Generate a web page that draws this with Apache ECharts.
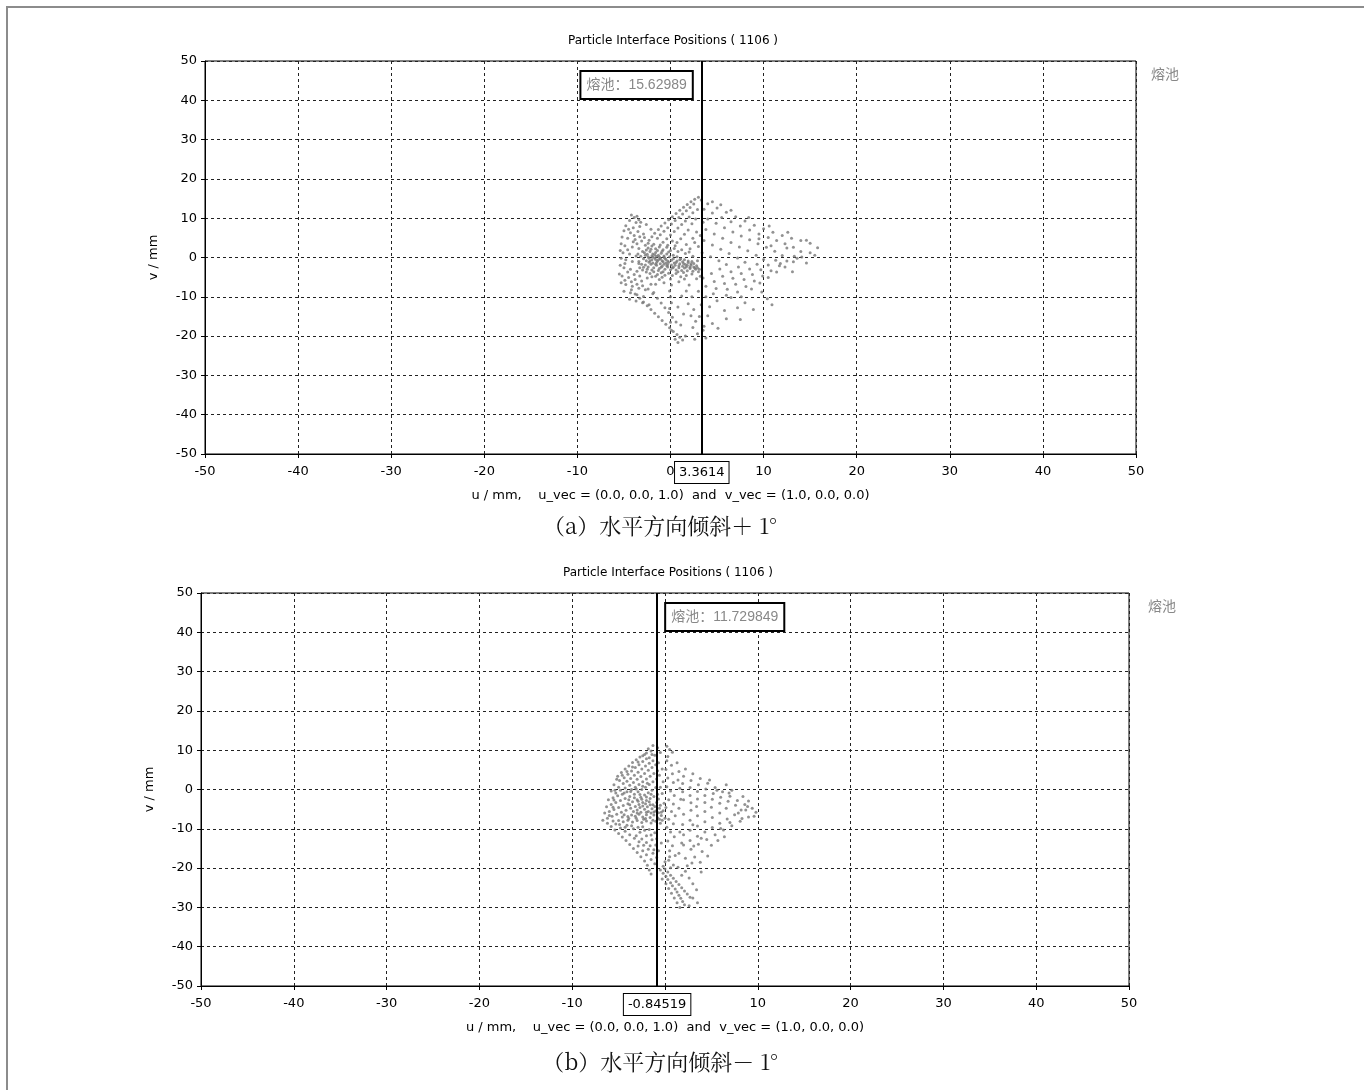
<!DOCTYPE html>
<html>
<head>
<meta charset="utf-8">
<script src="https://cdn.jsdelivr.net/npm/echarts@6/dist/echarts.min.js"></script>
<style>
  html, body { margin: 0; padding: 0; background: #fff; }
  #main { width: 1364px; height: 1090px; }
</style>
</head>
<body>
<div id="main"></div>
<script>
// tick labels / axis range
var axisMin = -50, axisMax = 50, axisStep = 10;
var chartTitle = 'Particle Interface Positions ( 1106 )';
var xName = 'u / mm,    u_vec = (0.0, 0.0, 1.0)  and  v_vec = (1.0, 0.0, 0.0)';
var yName = 'v / mm';
var seriesName = '熔池';
var captionA = '（a）水平方向倾斜＋ 1°';
var captionB = '（b）水平方向倾斜－ 1°';
var markA = 3.3614;     // vertical marker line, chart (a)
var markB = -0.84519;   // vertical marker line, chart (b)
var peakA = '15.62989';
var peakB = '11.729849';

// chart (a) particle positions [u, v]
var ptsA_core = [[-2.8,1.2],[-2.5,0.8],[-2.2,1.5],[-1.9,0.9],[-1.6,1.3],[-1.3,0.6],[-1.0,1.1],[-0.7,0.4],[-0.4,0.9],[-0.1,0.2],
  [-2.9,-0.3],[-2.6,-0.8],[-2.3,-0.2],[-2.0,-0.6],[-1.7,-0.1],[-1.4,-0.9],[-1.1,-0.4],[-0.8,-1.1],[-0.5,-0.5],[-0.2,-1.2],
  [0.1,-0.7],[0.4,-1.4],[0.7,-0.9],[1.0,-1.6],[1.3,-1.1],[1.6,-1.8],[1.9,-1.3],[2.2,-2.0],[2.5,-1.5],[2.8,-2.1],
  [-2.7,-1.9],[-2.4,-2.4],[-2.1,-1.7],[-1.8,-2.6],[-1.5,-2.0],[-1.2,-2.8],[-0.9,-2.2],[-0.6,-3.0],[-0.3,-2.4],[0.0,-3.1],
  [0.3,-2.5],[0.6,-3.2],[0.9,-2.6],[1.2,-3.3],[1.5,-2.7],[1.8,-3.4],[2.1,-2.8],[2.4,-3.5],[2.7,-3.0],[3.0,-3.6],
  [-2.4,2.4],[-2.0,2.9],[-1.6,2.2],[-1.2,2.7],[-0.8,2.0],[-0.4,2.6],[0.0,1.8],[0.4,2.3],[0.8,1.5],[1.2,2.0],
  [-3.0,-3.2],[-2.6,-3.7],[-2.2,-4.1],[-1.8,-3.6],[-1.4,-4.3],[-1.0,-3.9],[-0.6,-4.5],[-0.2,-4.0],[0.2,-4.6],[0.6,-4.1],
  [-1.9,0.1],[-1.5,0.3],[-1.1,-0.2],[-0.7,0.1],[-2.3,-1.2],[-1.9,-1.4],[-1.5,-1.3],[-1.1,-1.6],[-0.7,-1.7],[-0.3,-1.8],
  [0.1,-1.9],[0.5,-2.0],[0.9,-2.1],[1.3,-2.2],[1.7,-2.4],[2.1,-2.5],[2.5,-2.4],[-1.3,-0.6],[-0.9,-0.8],[-0.5,-1.4],
  [-2.0,0.4],[-2.4,0.2],[-2.7,0.6],[-1.7,0.7],[0.3,0.6],[0.7,0.2],[1.1,-0.3],[1.5,-0.6],[1.9,-0.9],[2.3,-1.0]];
var ptsA_left = [[-4.2,10.8],[-3.9,10.2],[-3.6,10.5],[-4.4,9.4],[-3.7,8.9],[-4.8,8.1],[-4.0,7.6],[-3.3,7.9],[-5.0,6.8],[-4.3,6.3],
  [-3.5,6.6],[-2.9,6.0],[-5.2,5.2],[-4.6,4.9],[-3.8,4.6],[-3.1,4.2],[-5.3,3.5],[-4.9,3.0],[-4.1,2.7],[-3.4,2.3],
  [-5.4,1.8],[-5.1,1.2],[-4.4,0.9],[-3.7,0.4],[-5.3,-0.2],[-4.8,-0.6],[-4.1,-1.0],[-3.4,-1.5],[-5.4,-2.0],[-5.0,-2.6],
  [-4.3,-3.0],[-3.6,-3.5],[-5.5,-4.2],[-5.2,-4.7],[-4.5,-5.1],[-3.8,-5.6],[-3.1,-6.0],[-5.3,-6.4],[-4.8,-6.9],[-4.1,-7.3],
  [-3.4,-7.8],[-2.7,-8.2],[-5.0,-8.6],[-4.3,-9.0],[-3.6,-9.5],[-2.9,-9.9],[-4.4,-10.6],[-3.7,-11.1],[-3.0,-11.5],[-2.3,-12.0],
  [-3.2,9.0],[-2.6,8.4],[-2.1,7.2],[-2.8,5.1],[-2.4,3.6],[-3.0,1.5],[-2.9,-2.5],[-2.5,-5.2],[-2.1,-6.8],[-1.8,-8.9]];
var ptsA_ridge = [[3.0,15.3],[2.6,14.8],[2.2,14.2],[3.3,14.6],[1.8,13.5],[2.5,13.6],[1.4,12.8],[2.1,12.7],[1.0,12.0],[1.7,11.9],
  [0.6,11.2],[1.3,11.1],[2.4,11.4],[0.2,10.4],[0.9,10.2],[2.0,10.3],[-0.2,9.6],[0.5,9.4],[1.6,9.3],[-0.6,8.8],
  [0.1,8.5],[1.2,8.4],[-1.0,8.0],[-0.3,7.6],[0.8,7.5],[2.3,8.6],[-1.3,7.1],[-0.7,6.7],[0.4,6.6],[1.9,7.0],
  [-1.7,6.2],[-1.1,5.8],[0.0,5.7],[1.5,5.9],[-2.0,5.3],[-1.4,4.9],[-0.4,4.8],[1.1,4.8],[-2.3,4.4],[-0.8,3.9],
  [0.7,3.8],[2.7,9.8],[2.9,12.2],[2.8,6.5],[2.4,4.9]];
var ptsA_arcs = [[15.8,2.5],[15.0,3.6],[14.0,4.3],[13.0,4.9],[12.0,5.6],[11.0,6.4],[10.0,7.3],[9.0,8.2],[8.0,9.3],[7.0,10.4],[6.0,11.5],[5.0,12.6],[4.0,13.7],
  [15.0,1.2],[14.1,0.1],[13.2,-1.1],[12.3,-2.4],[11.4,-3.7],[10.5,-5.1],[9.6,-6.5],[8.7,-8.0],
  [14.0,1.5],[13.2,2.6],[12.3,3.5],[11.4,4.3],[10.5,5.1],[9.5,6.0],[8.5,7.0],[7.5,8.0],[6.5,9.1],[5.5,10.2],[4.5,11.3],[3.6,12.3],
  [13.3,0.3],[12.5,-0.9],[11.7,-2.1],[10.8,-3.4],[9.9,-4.7],[9.0,-6.0],[8.1,-7.4],[7.2,-8.8],
  [12.0,0.5],[11.2,1.6],[10.3,2.6],[9.4,3.5],[8.5,4.5],[7.6,5.5],[6.7,6.5],[5.8,7.6],[4.9,8.7],[4.0,9.8],
  [11.3,-0.7],[10.5,-1.9],[9.7,-3.1],[8.8,-4.3],[7.9,-5.6],[7.0,-6.8],[6.1,-8.1],
  [10.0,-0.5],[9.2,0.6],[8.3,1.7],[7.4,2.7],[6.5,3.8],[5.6,4.9],[4.7,6.0],[3.8,7.1],
  [9.3,-1.7],[8.5,-2.9],[7.6,-4.1],[6.7,-5.3],[5.8,-6.6],[4.9,-7.9],
  [8.0,-1.2],[7.2,-0.1],[6.3,1.0],[5.4,2.1],[4.5,3.2],[3.6,4.3],[7.3,-2.4],[6.5,-3.6],[5.6,-4.8],[4.7,-6.1],[3.8,-7.3],
  [6.0,-1.8],[5.2,-0.8],[4.3,0.2],[3.4,1.2],[5.3,-2.9],[4.4,-4.1],[3.5,-5.2],
  [9.5,4.8],[10.8,3.0],[12.5,2.4],[11.8,-1.5],[13.6,-0.2],[9.8,-8.8],[10.4,-10.5],[10.9,-12.0],[8.0,-11.5],[6.5,-10.2],
  [5.0,-11.0],[4.2,-12.5],[5.8,-13.5],[4.0,-14.8],[6.0,-15.6],[7.5,-15.8],[4.5,-16.8],[3.6,-17.5],[5.1,-18.0],[7.2,-12.8],
  [8.9,-13.2],[3.8,-10.0],[4.6,-9.2],[6.0,-9.6],[7.6,-10.0]];
var ptsA_tail = [[-4.2,-8.2],[-3.8,-9.3],[-3.3,-10.4],[-2.9,-11.3],[-2.5,-12.3],[-2.1,-13.2],[-1.7,-14.2],[-1.3,-15.1],[-0.9,-16.0],[-0.5,-17.0],
  [-0.1,-17.9],[0.3,-18.8],[0.7,-19.6],[1.0,-20.3],[0.5,-20.8],[1.3,-21.0],[0.8,-21.6],[1.6,-20.0],
  [-3.0,-7.2],[-2.4,-8.0],[-1.9,-9.2],[-1.4,-10.4],[-1.0,-11.6],[-0.6,-12.8],[-0.2,-14.0],[0.2,-15.2],[0.6,-16.4],
  [0.0,-5.5],[0.1,-7.0],[-0.1,-8.5],[0.0,-10.0],[0.1,-11.5],[-0.1,-13.0],[0.0,-16.5],[0.1,-18.5],
  [1.5,-5.5],[2.0,-7.0],[1.7,-8.5],[2.3,-10.0],[1.9,-11.8],[2.5,-13.2],[2.2,-14.8],[2.7,-16.2],[2.4,-17.8],[2.9,-19.4],[2.6,-20.8],
  [-1.2,-5.6],[-1.6,-6.8],[-0.7,-6.4],[0.9,-6.2],[1.2,-9.8],[0.8,-12.6],[1.4,-14.4],[1.1,-17.2],[-2.0,-4.9],[3.2,-4.8],
  [3.0,-8.6],[3.3,-12.0],[3.1,-15.0],[3.5,-18.5],[3.8,-20.5]];
var ptsA_extra = [[-2.6,1.9],[-2.1,2.1],[-1.4,1.8],[-0.9,1.6],[-0.2,1.4],[-3.2,0.3],[-3.4,-1.0],[-3.1,-1.7],[-3.3,-2.6],[-3.5,0.9],
  [-2.2,-0.9],[-1.6,-0.5],[-1.2,0.2],[-0.6,-0.2],[-0.3,-0.9],[0.3,-0.3],[0.6,-1.3],[1.0,-0.6],[1.4,-1.5],[1.8,-2.0],
  [2.2,-1.6],[2.6,-2.7],[2.9,-2.6],[3.1,-3.0],[-1.6,-1.7],[-1.0,-2.5],[-0.4,-2.1],[0.2,-2.7],[0.8,-3.6],[1.4,-3.8],
  [-2.0,-3.2],[-1.3,-3.3],[-0.8,-3.6],[-2.5,-3.0],[-1.6,-4.8],[-0.9,-5.0],[-3.6,3.5],[-4.0,4.0],[-3.3,5.3],[-4.6,2.0],
  [-4.9,-1.5],[-4.6,-3.7],[-3.9,-4.3],[-3.3,-4.7],[-4.2,-6.2],[-3.6,-6.8],[-4.9,-5.8],[-3.9,5.6],[-4.5,7.2],[-3.4,9.6],
  [2.3,-4.2],[1.7,-4.6],[1.1,-4.9],[2.8,-5.4],[-0.3,3.1],[0.5,3.0],[1.7,3.3],[2.1,2.2],[1.6,1.0],[2.4,0.3],
  [2.9,-0.8],[2.0,1.4],[0.2,4.2],[-1.8,3.4],[-2.7,3.1],[-1.1,3.2],[3.0,2.8],[2.6,3.8],[3.2,5.6],[3.5,9.0],
  [4.5,14.2],[5.4,13.4],[6.5,12.0],[8.4,10.2],[10.6,8.0],[12.6,6.4],[14.6,4.4],[15.5,0.6],[14.6,-1.4],[13.1,-3.6]];

// chart (b) particle positions [u, v]
var ptsB_top = [[-1.8,10.4],[-1.3,11.2],[-0.8,10.6],[-2.0,9.3],[-1.5,9.8],[0.2,11.0],[0.5,10.2],[0.8,9.5],[-2.4,8.6],[-1.7,8.1],[-1.1,8.7],[0.3,8.4],[-0.5,9.4]];
var ptsB_left = [[-5.1,3.4],[-4.7,4.3],[-4.3,5.2],[-3.9,6.0],[-3.5,6.9],[-3.1,7.6],[-2.7,8.3],[-4.9,2.3],[-4.4,3.0],[-4.0,3.9],[-3.6,4.7],[-3.2,5.6],[-2.8,6.3],[-2.4,7.1],[-2.0,7.8],
  [-5.5,1.2],[-5.0,0.6],[-4.5,1.5],[-4.1,2.1],[-3.7,2.8],[-3.3,3.6],[-2.9,4.4],[-2.5,5.2],[-2.1,6.0],[-1.7,6.7],[-1.3,7.3],
  [-5.8,-0.4],[-5.3,-0.9],[-4.8,-0.2],[-4.3,0.4],[-3.8,1.1],[-3.4,1.8],[-3.0,2.6],[-2.6,3.3],[-2.2,4.1],[-1.8,4.9],[-1.4,5.6],[-1.0,6.3],
  [-6.1,-2.6],[-5.6,-2.1],[-5.1,-1.6],[-4.6,-1.2],[-4.1,-0.6],[-3.6,0.0],[-3.2,0.6],[-2.8,1.3],[-2.4,2.0],[-2.0,2.7],[-1.6,3.4],[-1.2,4.1],[-0.8,4.8],
  [-6.3,-4.4],[-5.8,-3.8],[-5.3,-3.3],[-4.8,-2.8],[-4.3,-2.3],[-3.8,-1.8],[-3.3,-1.2],[-2.9,-0.6],[-2.5,0.0],[-2.1,0.6],[-1.7,1.3],[-1.3,2.0],[-0.9,2.7],
  [-6.5,-6.0],[-6.0,-5.6],[-5.5,-5.1],[-5.0,-4.6],[-4.5,-4.1],[-4.0,-3.6],[-3.5,-3.1],[-3.0,-2.6],[-2.6,-2.0],[-2.2,-1.4],[-1.8,-0.8],[-1.4,-0.2],[-1.0,0.5],
  [-6.7,-7.8],[-6.2,-7.3],[-5.7,-6.8],[-5.2,-6.3],[-4.7,-5.8],[-4.2,-5.3],[-3.7,-4.8],[-3.2,-4.3],[-2.8,-3.8],[-2.4,-3.3],[-2.0,-2.8],[-1.6,-2.3],[-1.2,-1.8],[-0.8,-1.2]];
var ptsB_core = [[-3.4,-5.6],[-3.0,-5.2],[-2.6,-5.8],[-2.2,-5.0],[-1.8,-5.6],[-1.4,-4.9],[-1.0,-5.5],[-0.6,-4.8],[-0.2,-5.4],
  [-3.2,-6.8],[-2.8,-6.3],[-2.4,-7.0],[-2.0,-6.4],[-1.6,-7.1],[-1.2,-6.5],[-0.8,-7.2],[-0.4,-6.6],[0.0,-7.3],
  [-5.0,-7.9],[-4.5,-8.2],[-4.0,-7.8],[-3.5,-8.3],[-3.0,-7.9],[-2.5,-8.4],[-2.0,-8.0],[-1.5,-8.5],[-1.0,-8.1],[-0.5,-8.6],
  [-2.9,-3.0],[-2.5,-2.5],[-2.1,-3.6],[-1.7,-3.1],[-1.3,-3.9],[-0.9,-3.3],[-0.5,-4.0],[-0.1,-3.5],
  [-1.9,-4.4],[-1.5,-6.0],[-1.1,-4.3],[-0.7,-5.9],[-0.3,-7.8],[-2.3,-7.6],[-2.7,-4.6],[-3.6,-6.5],[-4.0,-6.9],[-3.8,-3.9]];
var ptsB_lowleft = [[-6.2,-8.6],[-5.8,-9.4],[-5.4,-10.3],[-5.0,-11.2],[-4.6,-12.1],[-4.2,-13.0],[-3.8,-14.0],[-3.4,-15.0],[-3.0,-16.0],[-2.6,-17.1],[-2.2,-18.2],[-1.9,-19.3],[-1.7,-20.5],[-1.5,-21.5],
  [-5.3,-8.8],[-4.8,-9.8],[-4.3,-10.6],[-3.8,-11.5],[-3.3,-12.4],[-2.8,-13.3],[-2.3,-14.2],[-1.8,-15.2],[-1.3,-16.2],[-0.9,-17.3],
  [-4.1,-9.1],[-3.4,-10.0],[-2.7,-10.9],[-2.0,-11.8],[-1.4,-12.8],[-1.0,-14.1],[-0.7,-15.6],[-2.4,-9.5],[-1.7,-10.2],[-1.1,-11.0]];
var ptsB_column = [[0.2,7.3],[0.7,6.2],[0.1,5.1],[0.8,4.0],[0.3,2.9],[0.9,1.8],[0.2,0.7],[0.6,-0.4],[1.0,-1.5],[0.4,-2.6],[0.9,-3.7],[0.1,-4.6],[0.7,-5.6],[1.1,-6.7],[0.4,-7.6],[0.9,-8.7],
  [0.2,-9.6],[0.6,-10.8],[1.0,-12.0],[0.3,-13.1],[0.8,-14.3],[0.5,-15.6],[1.1,-16.8],[0.4,-18.0],[0.9,-19.2],[1.3,6.8],[1.5,4.6],[1.4,2.4],[1.6,0.3],[1.7,-2.5],[1.5,-4.8]];
var ptsB_arcs = [[2.2,5.2],[3.0,4.0],[3.8,2.8],[4.6,1.6],[5.4,0.5],[6.2,-0.6],[7.0,-1.7],[7.8,-2.8],[8.6,-3.8],[9.4,-4.8],[9.8,-5.8],
  [9.0,-7.0],[8.1,-8.1],[7.2,-9.2],[6.3,-10.3],[5.4,-11.5],[4.5,-12.7],[3.6,-13.9],[2.8,-15.2],
  [2.0,3.4],[2.8,2.3],[3.6,1.2],[4.4,0.1],[5.2,-1.0],[6.0,-2.0],[6.8,-3.0],[7.6,-4.0],[8.2,-5.2],
  [7.5,-6.4],[6.7,-7.5],[5.9,-8.6],[5.1,-9.7],[4.3,-10.8],[3.5,-11.9],[2.7,-13.0],[2.0,-14.1],
  [1.9,1.5],[2.7,0.5],[3.5,-0.5],[4.3,-1.5],[5.1,-2.5],[5.9,-3.5],[6.6,-4.8],
  [5.9,-6.0],[5.1,-7.1],[4.3,-8.2],[3.5,-9.3],[2.7,-10.4],[2.0,-11.5],
  [1.9,-0.6],[2.7,-1.5],[3.5,-2.4],[4.3,-3.3],[5.0,-4.5],[4.3,-5.6],[3.5,-6.7],[2.7,-7.8],[1.9,-8.9],
  [2.0,-2.6],[2.8,-3.4],[3.4,-4.3],[2.8,-5.3],[2.0,-6.3],
  [7.2,-0.2],[8.4,-1.8],[6.6,1.2],[9.0,-2.9],[7.9,-6.0],[8.7,-5.2],[6.4,-12.0],[5.0,-14.2],[4.0,-15.8],[3.2,-17.2],[5.7,-13.0],[3.8,-18.5],[4.6,-16.9],[3.0,-9.0]];
var ptsB_tail = [[-0.5,-20.5],[-0.2,-21.3],[0.1,-22.1],[0.3,-22.9],[0.6,-23.7],[0.8,-24.5],[1.1,-25.3],[1.3,-26.1],[1.5,-26.9],[1.7,-27.7],[1.9,-28.5],[2.1,-29.3],
  [0.0,-20.2],[0.3,-21.0],[0.6,-21.8],[0.9,-22.6],[1.2,-23.4],[1.5,-24.2],[1.8,-25.0],[2.1,-25.8],[2.4,-26.6],[2.7,-27.4],
  [-0.3,-22.8],[0.1,-24.0],[0.4,-25.2],[0.7,-26.4],[1.0,-27.6],[1.3,-28.8],[1.6,-30.0],
  [2.6,-22.5],[3.0,-24.0],[3.4,-25.5],[3.0,-27.6],[3.5,-28.8],[2.6,-29.6],[2.2,-20.8],[1.4,-19.8],[3.9,-21.0],[2.9,-18.7]];
var ptsB_extra = [[-4.6,-7.0],[-3.9,-7.4],[-3.1,-7.3],[-2.1,-7.4],[-1.3,-7.8],[-0.6,-7.6],[-4.4,-6.4],[-3.0,-6.0],[-2.0,-5.8],[-1.2,-5.7],
  [-0.4,-5.8],[-2.4,-4.2],[-1.6,-3.9],[-0.7,-2.4],[-0.3,-1.0],[-0.5,0.6],[-0.2,2.0],[-0.6,3.6],[-0.3,5.2],[-0.7,6.8],
  [-1.4,8.9],[-2.2,8.9],[-2.9,7.0],[-3.5,5.7],[-4.1,4.6],[-4.6,3.6],[-5.2,2.6],[-5.4,-0.2],[-5.5,-2.7],[-5.6,-4.5],
  [-6.0,-6.6],[-5.6,-8.0],[-4.9,-8.9],[-4.3,-9.6],[-3.6,-9.2],[-2.9,-9.6],[-2.2,-10.4],[-1.5,-11.6],[-0.9,-12.5],[-0.4,-13.6],
  [-3.1,-11.8],[-2.5,-12.6],[-2.0,-13.5],[-1.6,-14.3],[-1.2,-15.3],[-2.9,-14.4],[-2.4,-15.6],[-2.0,-16.6],[-1.5,-17.8],[-1.1,-18.9],
  [-3.9,-2.6],[-3.3,-2.1],[-2.7,-1.3],[-2.0,-1.9],[-1.5,-1.2],[-4.4,-0.9],[-3.7,-0.5],[-3.1,0.1],[-2.4,0.8],[-1.9,1.6],
  [0.5,-17.1],[0.0,-18.4],[0.6,-19.9],[-0.2,-19.5],[1.6,-10.8],[1.8,-13.6],[1.5,-16.2],[2.2,-17.5],[2.4,-19.4],[1.8,-21.8],
  [4.8,2.4],[5.6,-0.2],[6.9,-0.9],[8.9,-4.3],[9.6,-6.8],[8.3,-7.4],[7.0,-8.4],[6.0,-9.9],[3.9,-12.4],[3.1,-14.4]];

var dataA = [].concat(ptsA_core, ptsA_left, ptsA_ridge, ptsA_arcs, ptsA_tail, ptsA_extra);
var dataB = [].concat(ptsB_top, ptsB_left, ptsB_core, ptsB_lowleft, ptsB_column, ptsB_arcs, ptsB_tail, ptsB_extra);

var chart = echarts.init(document.getElementById('main'));
var txtFont = 'DejaVu Sans';

function makeX(i) {
  return {
    gridIndex: i, type: 'value', min: axisMin, max: axisMax, interval: axisStep,
    name: xName, nameLocation: 'middle', nameGap: 35,
    nameTextStyle: { color: '#000', fontSize: 13, fontFamily: txtFont },
    axisLine: { show: true, onZero: false, lineStyle: { color: '#000', width: 1 } },
    axisTick: { show: true, length: 4, lineStyle: { color: '#000' } },
    axisLabel: { color: '#000', fontSize: 13, fontFamily: txtFont, margin: 11 },
    splitLine: { show: true, lineStyle: { color: '#222', width: 1, type: [3, 3] } }
  };
}
function makeY(i) {
  return {
    gridIndex: i, type: 'value', min: axisMin, max: axisMax, interval: axisStep,
    name: yName, nameLocation: 'middle', nameGap: 45,
    nameTextStyle: { color: '#000', fontSize: 13, fontFamily: txtFont },
    axisLine: { show: true, onZero: false, lineStyle: { color: '#000', width: 1 } },
    axisTick: { show: true, length: 4, lineStyle: { color: '#000' } },
    axisLabel: { color: '#000', fontSize: 13, fontFamily: txtFont, margin: 8 },
    splitLine: { show: true, lineStyle: { color: '#222', width: 1, type: [3, 3] } }
  };
}
function makeSeries(i, data, mark) {
  return {
    name: seriesName, type: 'scatter', xAxisIndex: i, yAxisIndex: i,
    data: data, symbolSize: 3, itemStyle: { color: '#777' },
    markLine: {
      symbol: 'none', silent: true, animation: false,
      lineStyle: { color: '#000', width: 2, type: 'solid' },
      label: {
        show: true, position: 'start', distance: 8, formatter: String(mark),
        color: '#000', fontSize: 13, fontFamily: txtFont,
        backgroundColor: '#fff', borderColor: '#000', borderWidth: 1, padding: [4, 4]
      },
      data: [{ xAxis: mark }]
    }
  };
}

var option = {
  animation: false,
  backgroundColor: '#fff',
  title: [
    { text: chartTitle, left: 668, top: 30, textAlign: 'center', textStyle: { fontSize: 12, fontWeight: 'normal', color: '#000', fontFamily: txtFont } },
    { text: chartTitle, left: 663, top: 562, textAlign: 'center', textStyle: { fontSize: 12, fontWeight: 'normal', color: '#000', fontFamily: txtFont } }
  ],
  grid: [
    { left: 205, top: 61, width: 931, height: 393, show: true, borderColor: '#000', borderWidth: 1 },
    { left: 201, top: 593, width: 928, height: 393, show: true, borderColor: '#000', borderWidth: 1 }
  ],
  xAxis: [makeX(0), makeX(1)],
  yAxis: [makeY(0), makeY(1)],
  series: [makeSeries(0, dataA, markA), makeSeries(1, dataB, markB)]
};
chart.setOption(option);

// labels tied to the marker lines, captions, legend text and frame
var pxA = chart.convertToPixel({ xAxisIndex: 0 }, markA);
var pxB = chart.convertToPixel({ xAxisIndex: 1 }, markB);
var boxStyle = {
  fill: '#888', font: '14px "Liberation Sans", "Noto Sans CJK SC"', verticalAlign: 'top',
  backgroundColor: '#fff', borderColor: '#000', borderWidth: 2, padding: [6, 5]
};
var capFont = '22px "Noto Serif CJK SC", "Noto Sans CJK SC"';
chart.setOption({
  graphic: [
    { type: 'rect', silent: true, shape: { x: 7, y: 7, width: 1400, height: 1120 }, style: { fill: null, stroke: '#8c8c8c', lineWidth: 2 } },
    { type: 'text', z: 100, x: pxA - 10, y: 72, style: Object.assign({ text: seriesName + '：' + peakA, align: 'right' }, boxStyle) },
    { type: 'text', z: 100, x: pxB + 9, y: 604, style: Object.assign({ text: seriesName + '：' + peakB, align: 'left' }, boxStyle) },
    { type: 'text', x: 1151, y: 67, style: { text: seriesName, fill: '#888', font: '14px "Noto Sans CJK SC"' } },
    { type: 'text', x: 1148, y: 599, style: { text: seriesName, fill: '#888', font: '14px "Noto Sans CJK SC"' } },
    { type: 'text', x: 660, y: 526, style: { text: captionA, align: 'center', verticalAlign: 'middle', fill: '#111', font: capFont } },
    { type: 'text', x: 660, y: 1062, style: { text: captionB, align: 'center', verticalAlign: 'middle', fill: '#111', font: capFont } }
  ]
});
</script>
</body>
</html>
